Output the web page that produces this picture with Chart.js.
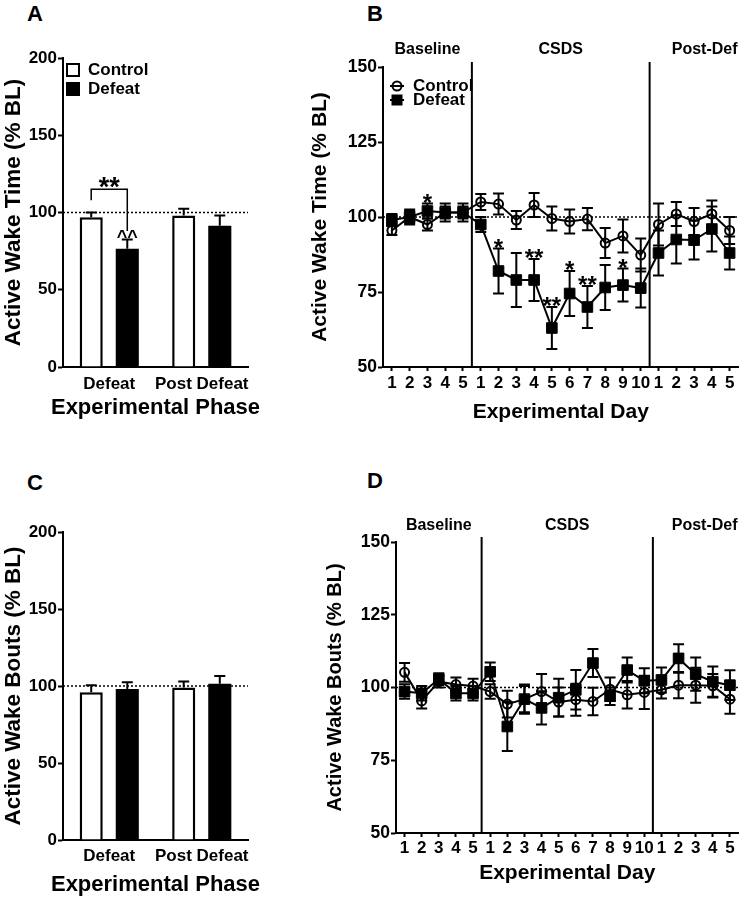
<!DOCTYPE html>
<html>
<head>
<meta charset="utf-8">
<script src="https://cdn.jsdelivr.net/npm/chart.js@4.4.1/dist/chart.umd.min.js"></script>
<style>
  body { margin: 0; background: #fff; width: 747px; height: 899px; position: relative; overflow: hidden;
         font-family: "Liberation Sans", Arial, Helvetica, sans-serif; }
  canvas { position: absolute; }
  .lbl { position: absolute; font-weight: bold; font-size: 22px; line-height: 1; color: #000; }
</style>
</head>
<body>
<div class="lbl" style="left:27px;top:3px">A</div>
<div class="lbl" style="left:367px;top:3px">B</div>
<div class="lbl" style="left:27px;top:472px">C</div>
<div class="lbl" style="left:367px;top:470px">D</div>

<canvas id="panelA" width="270" height="390" style="left:0;top:40px"></canvas>
<canvas id="panelB" width="447" height="400" style="left:300px;top:30px"></canvas>
<canvas id="panelC" width="270" height="399" style="left:0;top:500px"></canvas>
<canvas id="panelD" width="432" height="399" style="left:315px;top:500px"></canvas>

<script>
// bar panels (A, C)
var phaseLabels = ['Defeat', 'Post Defeat'];
var timeControl = [97, 98];
var timeControlSem = [3, 4.5];
var timeDefeat = [76.5, 91.5];
var timeDefeatSem = [6, 6.5];
var boutsControl = [96, 99];
var boutsControlSem = [4.5, 4];
var boutsDefeat = [98, 101.5];
var boutsDefeatSem = [4.5, 5];

// daily panels (B, D)
var dayLabels = ['1', '2', '3', '4', '5', '1', '2', '3', '4', '5', '6', '7', '8', '9', '10', '1', '2', '3', '4', '5'];
var phaseNames = ['Baseline', 'CSDS', 'Post-Def'];
var phaseStarts = [5, 15];

var dayTimeControl = [95.5, 100, 97.5, 101.5, 101.5, 105, 104.3, 99, 104, 99.5, 98.5, 99.3, 91.3, 93.7, 87.3, 97.5, 101, 98.5, 101, 95.5];
var dayTimeControlSem = [1.5, 2, 2, 2, 2, 2.7, 3.5, 3, 4, 4, 4, 3.7, 5, 5.5, 5.5, 7, 4, 4.5, 4.5, 4.5];
var dayTimeDefeat = [99, 100, 102, 101.5, 101.5, 97.5, 82, 79, 79, 63, 74.5, 70, 76.5, 77.3, 76.3, 88, 92.5, 92.3, 96, 88];
var dayTimeDefeatSem = [2, 2.5, 2.5, 3, 3, 2.5, 7.5, 9, 7, 7, 7.5, 7, 7.5, 5.5, 6.5, 7.5, 8, 6.5, 7.5, 5.5];
var dayTimeStars = ['', '', '*', '', '', '', '*', '', '**', '**', '*', '**', '', '*', '', '', '', '', '', ''];

var dayBoutsControl = [105.2, 95.4, 102, 101, 100.5, 98.6, 94.3, 96, 98.6, 95, 95.8, 95.2, 99.4, 97.5, 98.3, 99.2, 100.8, 100.8, 100.6, 96];
var dayBoutsControlSem = [3.2, 2.6, 2, 2.4, 2.5, 2.5, 4.6, 5, 6, 5, 5.5, 4.7, 4, 4.7, 5.7, 3, 4.5, 6, 4, 5];
var dayBoutsDefeat = [98.6, 98, 102.9, 98, 98, 105.4, 86.6, 96, 93, 96.5, 99.2, 108.4, 97, 106, 102.3, 102.6, 110, 104.6, 102, 100.8];
var dayBoutsDefeatSem = [2.5, 2.5, 2, 2.5, 2.5, 3.2, 8.4, 4.5, 5.7, 6.5, 6.8, 4.8, 3, 4.3, 4.3, 4.3, 4.9, 5.7, 5.2, 5.1];

// significance marks on panel A
var bracketStars = '**';
var bracketLevels = [108, 115, 88]; // left leg end, top, right leg end
var defeatVsBaseline = ['^^', ''];

var FONT = '"Liberation Sans", Arial, Helvetica, sans-serif';
Chart.defaults.font.family = FONT;
Chart.defaults.color = '#000';

function bold(size) { return { family: FONT, size: size, weight: 'bold' }; }

function mark(ctx, text, x, cy, size) {
  ctx.font = 'bold ' + size + 'px ' + FONT;
  ctx.textAlign = 'center';
  ctx.textBaseline = 'alphabetic';
  ctx.fillText(text, x, cy + 0.57 * size);
}

function drawErrors(chart) {
  var ctx = chart.ctx, y = chart.scales.y;
  chart.data.datasets.forEach(function (ds, i) {
    var meta = chart.getDatasetMeta(i);
    meta.data.forEach(function (el, j) {
      var v = ds.data[j], e = ds.sem[j];
      var top = y.getPixelForValue(v + e);
      var bot = ds.upOnly ? y.getPixelForValue(v) : y.getPixelForValue(v - e);
      ctx.save();
      ctx.strokeStyle = '#000';
      ctx.lineWidth = 2;
      ctx.beginPath();
      ctx.moveTo(el.x, top); ctx.lineTo(el.x, bot);
      ctx.moveTo(el.x - 5.5, top); ctx.lineTo(el.x + 5.5, top);
      if (!ds.upOnly) { ctx.moveTo(el.x - 5.5, bot); ctx.lineTo(el.x + 5.5, bot); }
      ctx.stroke();
      ctx.restore();
    });
  });
}

function annotate(opts) {
  return {
    id: 'annotate',
    beforeDatasetsDraw: function (chart) {
      var ctx = chart.ctx, a = chart.chartArea, y = chart.scales.y, x = chart.scales.x;
      var ry = y.getPixelForValue(100);
      ctx.save();
      ctx.strokeStyle = '#000';
      ctx.lineWidth = 1.5;
      ctx.setLineDash([2, 2]);
      ctx.beginPath(); ctx.moveTo(a.left, ry); ctx.lineTo(a.right, ry); ctx.stroke();
      ctx.setLineDash([]);
      if (opts.phases) {
        ctx.lineWidth = 2;
        phaseStarts.forEach(function (s) {
          var sx = (x.getPixelForValue(s - 1) + x.getPixelForValue(s)) / 2;
          ctx.beginPath(); ctx.moveTo(sx, a.top - 5); ctx.lineTo(sx, a.bottom); ctx.stroke();
        });
      }
      ctx.restore();
    },
    afterDatasetsDraw: function (chart) {
      var ctx = chart.ctx, y = chart.scales.y;
      drawErrors(chart);
      ctx.save();
      ctx.fillStyle = '#000';
      if (opts.stars) {
        var ds = chart.data.datasets[1], meta = chart.getDatasetMeta(1);
        opts.stars.forEach(function (s, j) {
          if (!s) return;
          var top = y.getPixelForValue(ds.data[j] + ds.sem[j]);
          mark(ctx, s, meta.data[j].x, top - 6.5, 24);
        });
      }
      if (opts.bracket) {
        var c = chart.getDatasetMeta(0).data[0], d = chart.getDatasetMeta(1).data[0];
        var yl = y.getPixelForValue(bracketLevels[0]), yt = y.getPixelForValue(bracketLevels[1]), yr = y.getPixelForValue(bracketLevels[2]);
        ctx.strokeStyle = '#000';
        ctx.lineWidth = 1.5;
        ctx.beginPath();
        ctx.moveTo(c.x, yl); ctx.lineTo(c.x, yt); ctx.lineTo(d.x, yt); ctx.lineTo(d.x, yr);
        ctx.stroke();
        mark(ctx, bracketStars, (c.x + d.x) / 2, yt - 9, 27);
        var dd = chart.data.datasets[1];
        chart.getDatasetMeta(1).data.forEach(function (el, j) {
          if (!defeatVsBaseline[j]) return;
          mark(ctx, defeatVsBaseline[j], el.x, y.getPixelForValue(dd.data[j] + dd.sem[j]) - 6.5, 18);
        });
      }
      ctx.restore();
    },
    afterDraw: function (chart) {
      var ctx = chart.ctx, a = chart.chartArea, x = chart.scales.x;
      ctx.save();
      ctx.fillStyle = '#000';
      ctx.strokeStyle = '#000';
      if (opts.xTitle) {
        // wider than the plot, so drawn here instead of as the scale title
        ctx.font = 'bold 22px ' + FONT;
        ctx.textAlign = 'center';
        ctx.textBaseline = 'middle';
        ctx.fillText(opts.xTitle, (a.left + a.right) / 2, chart.height - opts.xTitleGap);
      }
      if (opts.legend === 'box') {
        ctx.lineWidth = 2;
        ctx.strokeRect(a.left + 4, a.top + 6, 12, 12);
        ctx.fillRect(a.left + 3, a.top + 24, 14, 14);
        ctx.font = 'bold 17px ' + FONT;
        ctx.textAlign = 'left';
        ctx.textBaseline = 'middle';
        ctx.fillText('Control', a.left + 25, a.top + 12);
        ctx.fillText('Defeat', a.left + 25, a.top + 31);
      }
      if (opts.legend === 'line') {
        var lx = a.left + 14, l1 = a.top + 19, l2 = a.top + 33;
        ctx.lineWidth = 2;
        ctx.beginPath(); ctx.moveTo(lx - 7, l1); ctx.lineTo(lx + 7, l1); ctx.stroke();
        ctx.beginPath(); ctx.arc(lx, l1, 4.5, 0, Math.PI * 2); ctx.stroke();
        ctx.beginPath(); ctx.moveTo(lx - 7, l2); ctx.lineTo(lx + 7, l2); ctx.stroke();
        ctx.fillRect(lx - 5.5, l2 - 5.5, 11, 11);
        ctx.font = 'bold 17px ' + FONT;
        ctx.textAlign = 'left';
        ctx.textBaseline = 'middle';
        ctx.fillText('Control', lx + 16, l1);
        ctx.fillText('Defeat', lx + 16, l2);
      }
      if (opts.phases) {
        var edges = [a.left];
        phaseStarts.forEach(function (s) { edges.push((x.getPixelForValue(s - 1) + x.getPixelForValue(s)) / 2); });
        edges.push(a.right);
        ctx.font = 'bold 16px ' + FONT;
        ctx.textBaseline = 'middle';
        phaseNames.forEach(function (n, i) {
          if (i === phaseNames.length - 1) {
            ctx.textAlign = 'right';
            ctx.fillText(n, a.right - 1, a.top - opts.phaseGap);
          } else {
            ctx.textAlign = 'center';
            ctx.fillText(n, (edges[i] + edges[i + 1]) / 2, a.top - opts.phaseGap);
          }
        });
      }
      ctx.restore();
    }
  };
}

function yAxis(min, max, step, tickSize, title, titleSize, width, titlePad) {
  return {
    min: min, max: max,
    ticks: { stepSize: step, font: bold(tickSize), color: '#000', padding: 1 },
    grid: { drawOnChartArea: false, drawTicks: true, tickLength: 5, tickWidth: 2, tickColor: '#000', color: '#000' },
    border: { display: true, color: '#000', width: 2 },
    title: { display: true, text: title, color: '#000', font: bold(titleSize), padding: { top: titlePad, bottom: 0 } },
    afterFit: function (s) { s.width = width; }
  };
}

function xAxis(title, titleSize, tickLen, tickPad, tickSize, height, titlePad) {
  return {
    offset: true,
    ticks: { font: bold(tickSize), color: '#000', padding: tickPad, autoSkip: false, maxRotation: 0, minRotation: 0 },
    grid: tickLen ? { display: true, drawOnChartArea: false, drawTicks: true, tickLength: tickLen, tickWidth: 2, tickColor: '#000', color: '#000' }
                  : { display: false, drawTicks: false },
    border: { display: true, color: '#000', width: 2 },
    title: { display: !!title, text: title, color: '#000', font: bold(titleSize), padding: { top: 0, bottom: titlePad } },
    afterFit: function (s) { s.height = height; }
  };
}

function barPanel(id, ctrl, ctrlSem, def, defSem, yTitle, pad, xHeight, tickPad, extra) {
  extra.xTitle = 'Experimental Phase';
  return new Chart(document.getElementById(id), {
    type: 'bar',
    data: {
      labels: phaseLabels,
      datasets: [
        { label: 'Control', data: ctrl, sem: ctrlSem, upOnly: true, backgroundColor: '#fff', borderColor: '#000', borderWidth: 2.5,
          categoryPercentage: 0.78, barPercentage: 0.64 },
        { label: 'Defeat', data: def, sem: defSem, upOnly: true, backgroundColor: '#000', borderColor: '#000', borderWidth: 0,
          categoryPercentage: 0.78, barPercentage: 0.64 }
      ]
    },
    options: {
      responsive: false, animation: false, events: [],
      layout: { padding: pad },
      plugins: { legend: { display: false }, tooltip: { enabled: false } },
      scales: {
        x: xAxis('', 21, 0, tickPad, 17, xHeight, 0),
        y: yAxis(0, 200, 50, 17, yTitle, 22.5, 63, 0)
      }
    },
    plugins: [annotate(extra)]
  });
}

function linePanel(id, ctrl, ctrlSem, def, defSem, yTitle, titleSize, yWidth, yTitlePad, pad, xHeight, tickPad, titlePad, extra) {
  return new Chart(document.getElementById(id), {
    type: 'line',
    data: {
      labels: dayLabels,
      datasets: [
        { label: 'Control', data: ctrl, sem: ctrlSem, borderColor: '#000', borderWidth: 2, tension: 0,
          pointStyle: 'circle', pointRadius: 4.5, pointBorderWidth: 2, pointBorderColor: '#000', pointBackgroundColor: 'rgba(0,0,0,0)', order: 2 },
        { label: 'Defeat', data: def, sem: defSem, borderColor: '#000', borderWidth: 2, tension: 0,
          pointStyle: 'rect', pointRadius: 7.5, pointBorderWidth: 1, pointBorderColor: '#000', pointBackgroundColor: '#000', order: 1 }
      ]
    },
    options: {
      responsive: false, animation: false, events: [],
      layout: { padding: pad },
      plugins: { legend: { display: false }, tooltip: { enabled: false } },
      scales: {
        x: xAxis('Experimental Day', 21, 4, tickPad, 17, xHeight, titlePad),
        y: yAxis(50, 150, 25, 17.5, yTitle, titleSize, yWidth, yTitlePad)
      }
    },
    plugins: [annotate(extra)]
  });
}

barPanel('panelA', timeControl, timeControlSem, timeDefeat, timeDefeatSem, 'Active Wake Time (% BL)',
  { top: 18, right: 22, left: 0, bottom: 0 }, 63, 7.5, { legend: 'box', bracket: true, xTitleGap: 22 });

linePanel('panelB', dayTimeControl, dayTimeControlSem, dayTimeDefeat, dayTimeDefeatSem, 'Active Wake Time (% BL)', 21, 83, 7.4,
  { top: 37, right: 3, left: 0, bottom: 0 }, 63, 2.5, 5.4, { legend: 'line', phases: true, phaseGap: 17, stars: dayTimeStars });

barPanel('panelC', boutsControl, boutsControlSem, boutsDefeat, boutsDefeatSem, 'Active Wake Bouts (% BL)',
  { top: 32, right: 22, left: 0, bottom: 0 }, 59, 6.5, { xTitleGap: 14 });

linePanel('panelD', dayBoutsControl, dayBoutsControlSem, dayBoutsDefeat, dayBoutsDefeatSem, 'Active Wake Bouts (% BL)', 20, 81, 8,
  { top: 42, right: 2, left: 0, bottom: 0 }, 66, 1.5, 13.4, { phases: true, phaseGap: 16 });
</script>
</body>
</html>
